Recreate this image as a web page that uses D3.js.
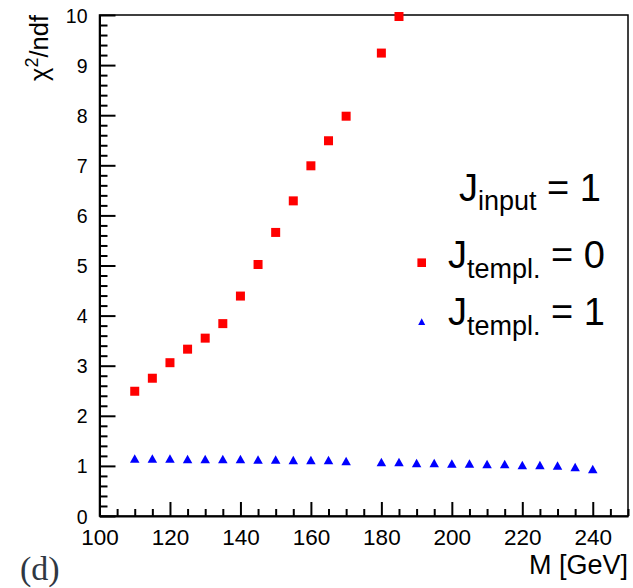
<!DOCTYPE html>
<html>
<head>
<meta charset="utf-8">
<script src="https://cdn.jsdelivr.net/npm/d3@7"></script>
<style>
  html, body { margin: 0; padding: 0; background: #fff; }
  svg { display: block; }
  text { font-family: "Liberation Sans", Arial, Helvetica, sans-serif; fill: #000; }
</style>
</head>
<body>
<svg id="chart" width="633" height="588"></svg>
<script>
// ---- data ----
const massJ0 = [110, 115, 120, 125, 130, 135, 140, 145, 150, 155, 160, 165, 170, 180, 185];
const chi2J0 = [2.49, 2.75, 3.06, 3.33, 3.55, 3.84, 4.39, 5.02, 5.66, 6.29, 6.99, 7.49, 7.98, 9.24, 9.97];

const massJ1 = [110, 115, 120, 125, 130, 135, 140, 145, 150, 155, 160, 165, 170,
                180, 185, 190, 195, 200, 205, 210, 215, 220, 225, 230, 235, 240];
const chi2J1 = [1.15, 1.15, 1.15, 1.14, 1.14, 1.14, 1.14, 1.13, 1.13, 1.12, 1.12, 1.12, 1.10,
                1.08, 1.08, 1.06, 1.06, 1.05, 1.05, 1.04, 1.04, 1.02, 1.02, 1.01, 0.98, 0.94];

const xMajorTicks = [100, 120, 140, 160, 180, 200, 220, 240];
const yMajorTicks = [0, 1, 2, 3, 4, 5, 6, 7, 8, 9, 10];

// ---- layout ----
const svg = d3.select("#chart");
const L = 99.5, R = 628, T = 15, B = 516;

const x = d3.scaleLinear().domain([100, 250]).range([L, R]);
const y = d3.scaleLinear().domain([0, 10]).range([B, T]);

const xMinor = d3.range(100, 251, 5).filter(v => v % 20 !== 0);
const yMinor = d3.range(0, 10.001, 0.2).map(v => +v.toFixed(1)).filter(v => Math.abs(v - Math.round(v)) > 1e-6);

// frame
svg.append("rect")
  .attr("x", L).attr("y", T).attr("width", R - L).attr("height", B - T)
  .attr("fill", "none").attr("stroke", "#000").attr("stroke-width", 1.5);

// y axis major
const gy = svg.append("g").attr("transform", `translate(${L},0)`)
  .call(d3.axisLeft(y).tickValues(yMajorTicks).tickSizeInner(-16).tickSizeOuter(0)
    .tickFormat(d3.format("d")));
gy.select(".domain").attr("stroke", "#000").attr("stroke-width", 2);
gy.selectAll(".tick line").attr("stroke", "#000").attr("stroke-width", 2);
gy.selectAll(".tick text").attr("font-size", 19.5)
  .attr("fill", "#000").attr("dy", "0.36em").attr("x", -12);

// y axis minor
const gym = svg.append("g").attr("transform", `translate(${L},0)`)
  .call(d3.axisLeft(y).tickValues(yMinor).tickSizeInner(-8).tickSizeOuter(0).tickFormat(""));
gym.select(".domain").remove();
gym.selectAll(".tick line").attr("stroke", "#000").attr("stroke-width", 2);

// x axis major
const gx = svg.append("g").attr("transform", `translate(0,${B})`)
  .call(d3.axisBottom(x).tickValues(xMajorTicks).tickSizeInner(-14).tickSizeOuter(0)
    .tickFormat(d3.format("d")));
gx.select(".domain").attr("stroke", "#000").attr("stroke-width", 2);
gx.selectAll(".tick line").attr("stroke", "#000").attr("stroke-width", 2);
gx.selectAll(".tick text").attr("font-size", 22.5)
  .attr("fill", "#000").attr("y", 29).attr("dy", 0);

// x axis minor
const gxm = svg.append("g").attr("transform", `translate(0,${B})`)
  .call(d3.axisBottom(x).tickValues(xMinor).tickSizeInner(-7).tickSizeOuter(0).tickFormat(""));
gxm.select(".domain").remove();
gxm.selectAll(".tick line").attr("stroke", "#000").attr("stroke-width", 2);

// axis titles
svg.append("text")
  .attr("x", R).attr("y", 574)
  .attr("text-anchor", "end").attr("font-size", 27)
  .text("M [GeV]");

const yt = svg.append("text")
  .attr("transform", "translate(48,15) rotate(-90)")
  .attr("text-anchor", "end").attr("font-size", 25.5);
yt.append("tspan").text("χ");
yt.append("tspan").attr("font-size", 18).attr("dy", -10).text("2");
yt.append("tspan").attr("dy", 10).text("/ndf");

// ---- markers ----
const sq = 9;
svg.append("g").selectAll("rect")
  .data(massJ0.map((m, i) => [m, chi2J0[i]]))
  .join("rect")
  .attr("x", d => x(d[0]) - sq / 2).attr("y", d => y(d[1]) - sq / 2)
  .attr("width", sq).attr("height", sq)
  .attr("fill", "#ff0000");

function tri(cx, cy, w, h) {
  return `M${cx - w / 2},${cy + h / 2}L${cx + w / 2},${cy + h / 2}L${cx},${cy - h / 2}Z`;
}
svg.append("g").selectAll("path")
  .data(massJ1.map((m, i) => [m, chi2J1[i]]))
  .join("path")
  .attr("d", d => tri(x(d[0]), y(d[1]), 9.5, 8.5))
  .attr("fill", "#0000ff");

// ---- legend ----
const lg = svg.append("g");
// line 1
const l1 = lg.append("text").attr("x", 459).attr("y", 201).attr("font-size", 38);
l1.append("tspan").text("J");
l1.append("tspan").attr("font-size", 27).attr("dy", 9).text("input");
l1.append("tspan").attr("dy", -9).text(" = 1");

// line 2
lg.append("rect").attr("x", 421.7 - 4.3).attr("y", 262.7 - 4.3).attr("width", 8.6).attr("height", 8.6).attr("fill", "#ff0000");
const l2 = lg.append("text").attr("x", 448).attr("y", 268).attr("font-size", 38);
l2.append("tspan").text("J");
l2.append("tspan").attr("font-size", 27).attr("dy", 10).text("templ.");
l2.append("tspan").attr("dy", -10).text(" = 0");

// line 3
lg.append("path").attr("d", tri(421.7, 321.7, 7, 6.7)).attr("fill", "#0000ff");
const l3 = lg.append("text").attr("x", 448).attr("y", 325).attr("font-size", 38);
l3.append("tspan").text("J");
l3.append("tspan").attr("font-size", 27).attr("dy", 10).text("templ.");
l3.append("tspan").attr("dy", -10).text(" = 1");

// panel label
svg.append("text").attr("x", 20).attr("y", 580)
  .style("font-family", "'Liberation Serif', 'DejaVu Serif', serif")
  .style("font-size", "34px")
  .style("fill", "#2f3742")
  .text("(d)");
</script>
</body>
</html>
